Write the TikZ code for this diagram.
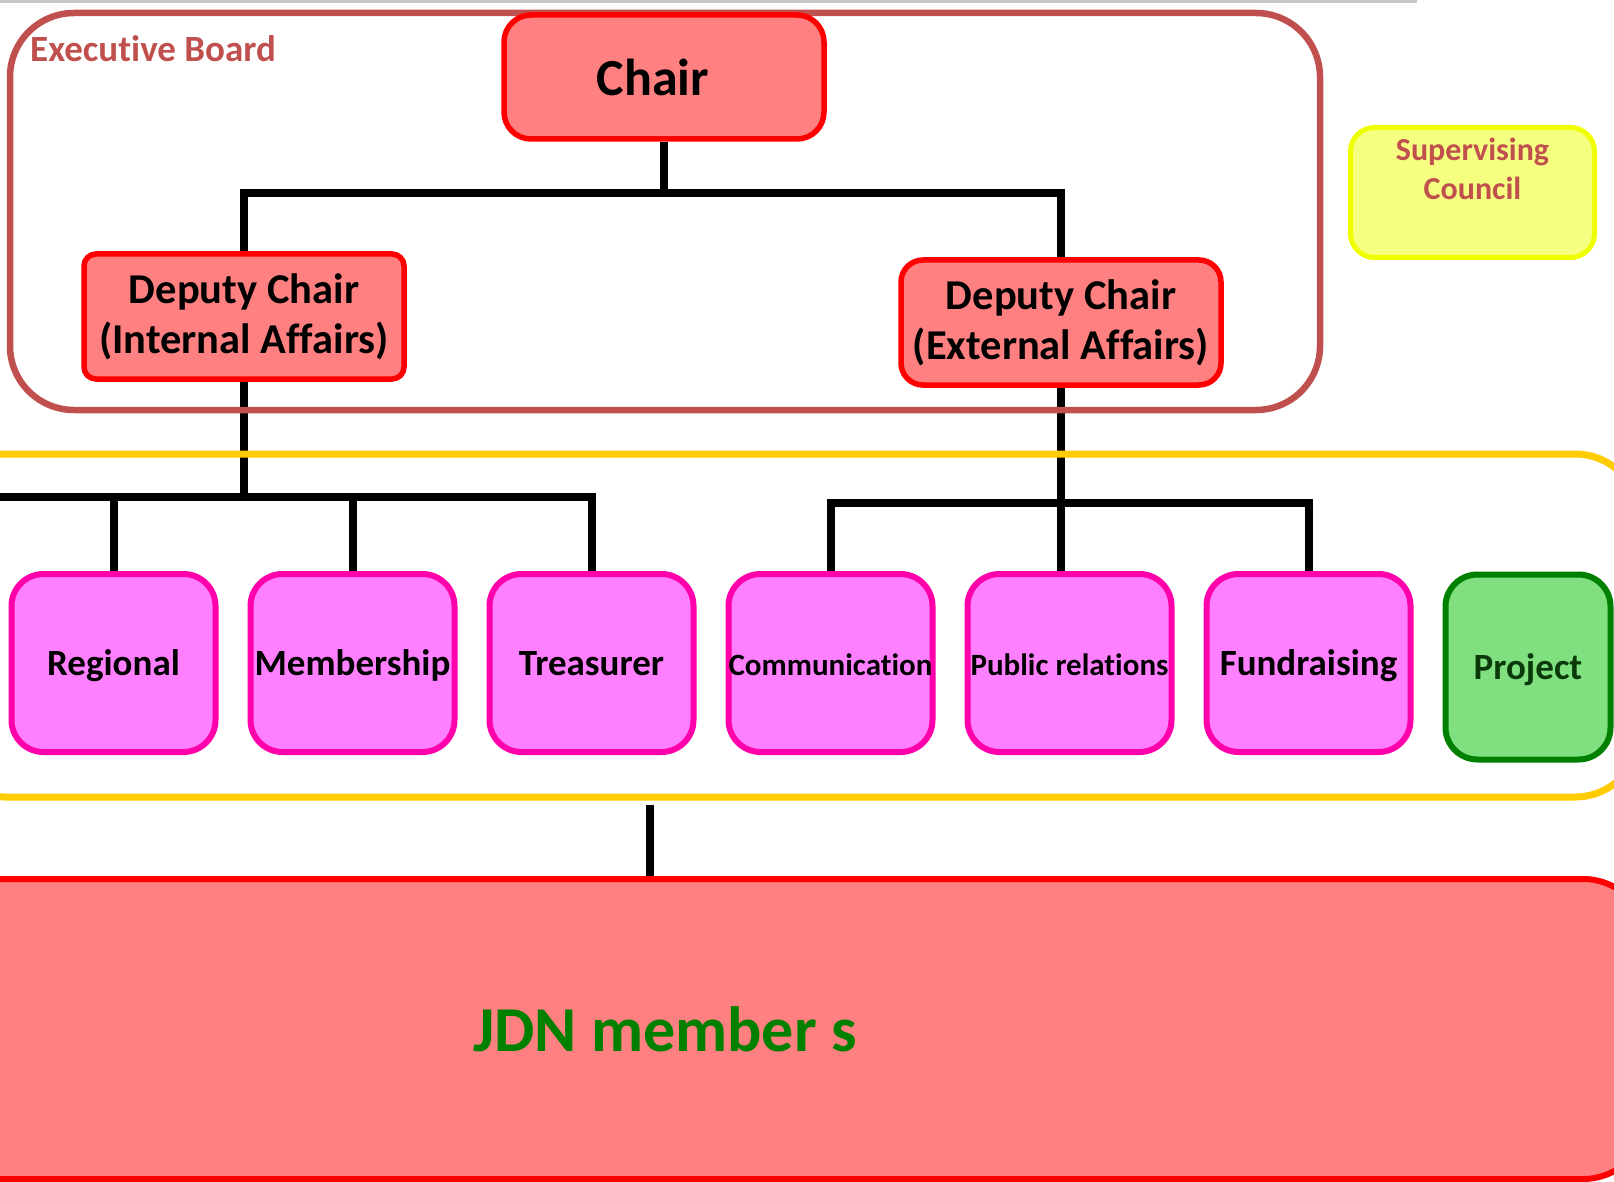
\documentclass[tikz,border=0pt]{standalone}
\usepackage{fontspec}
\setmainfont{Carlito}[Ligatures=NoCommon]
\usetikzlibrary{positioning}
\usetikzlibrary{backgrounds}
\definecolor{salmon}{HTML}{FF8080}
\definecolor{boardred}{HTML}{C0504D}
\definecolor{teampink}{HTML}{FF80FF}
\definecolor{teamborder}{HTML}{FF00AA}
\definecolor{projgreen}{HTML}{80E080}
\definecolor{projborder}{HTML}{008000}
\definecolor{projtext}{HTML}{0A3A0A}
\definecolor{teamyellow}{HTML}{FFCC00}
\definecolor{councilfill}{HTML}{F5FF80}
\definecolor{councilborder}{HTML}{F0FF00}
\definecolor{membergreen}{HTML}{008000}
\tikzstyle{chairblock} = [rectangle, draw=red, fill=salmon, line width=5.5pt, rounded corners=27pt, minimum width=320pt, minimum height=124pt, font=\fontsize{52}{62}\selectfont\bfseries, text height=41.6pt, text depth=5.2pt]
\tikzstyle{deputy} = [rectangle, draw=red, fill=salmon, line width=5.5pt, minimum width=320pt, minimum height=125pt, inner sep=2pt, align=center, font=\fontsize{42.5}{50}\selectfont\bfseries]
\tikzstyle{team} = [rectangle, draw=teamborder, fill=teampink, line width=6pt, rounded corners=32pt, minimum width=204pt, minimum height=178pt, inner sep=0pt, font=\fontsize{37}{44}\selectfont\bfseries, text height=29.6pt, text depth=3.7pt]
\tikzstyle{smallteam} = [team, font=\fontsize{31}{37}\selectfont\bfseries]
\tikzstyle{project} = [team, draw=projborder, fill=projgreen, text=projtext, minimum width=165pt, minimum height=185pt]
\tikzstyle{container} = [rectangle, draw, line width=7pt, rounded corners=65pt]
\tikzstyle{council} = [rectangle, draw=councilborder, fill=councilfill, line width=5pt, rounded corners=24pt, minimum width=244pt, minimum height=130pt]
\tikzstyle{boardlabel} = [inner sep=0pt, text=boardred, align=center]
\tikzstyle{members} = [rectangle, draw=red, fill=salmon, line width=6pt, rounded corners=65pt, minimum width=1966pt, minimum height=300pt, text=membergreen, font=\fontsize{64}{77}\selectfont\bfseries, text height=51.2pt, text depth=6.4pt]
\tikzstyle{wire} = [line width=8pt]
\begin{document}
\begin{tikzpicture}[x=1pt,y=1pt,node distance=29pt]
    \useasboundingbox (0,0) rectangle (1614,-1182);
    \draw[black!22, line width=3pt] (0,-1.5) -- (1417,-1.5);

    \node [container, draw=boardred, line width=6.5pt, rounded corners=64pt, minimum width=1310pt, minimum height=397pt] (board) at (665,-211.5) {};
    \node [boardlabel, anchor=base west, font=\fontsize{37}{44}\selectfont\bfseries] (boardname) at (30,-62) {Executive Board};
    \node [container, draw=teamyellow, minimum width=1700pt, minimum height=343pt] (teams) at (790,-625.5) {};
    \node [members] (members) at (665,-1029) {JDN member s};

    \node [council] (council) at (1472.5,-192.5) {};
    \node [boardlabel, below=13pt of council.north, font=\fontsize{32}{39}\selectfont\bfseries] (councilname) {Supervising\\Council};

    \node [chairblock] (chair) at (664,-77) {Chair\hspace*{22pt}};
    \node [deputy, rounded corners=12pt] (internal) at (244,-316.5) {Deputy Chair\\(Internal Affairs)};
    \node [deputy, rounded corners=22pt] (external) at (1061,-322.5) {Deputy Chair\\(External Affairs)};

    \node [team] (regional) at (113.5,-663) {Regional};
    \node [team, right= of regional] (membership) {Membership};
    \node [team, right= of membership] (treasurer) {Treasurer};
    \node [smallteam, right= of treasurer] (communication) {Communication};
    \node [smallteam, right= of communication] (relations) {Public relations};
    \node [team, right= of relations] (fundraising) {Fundraising};
    \node [project, right= of fundraising, yshift=-4pt] (project) {Project};

    \coordinate (westend) at (-10,-497);
    \coordinate (memberlink) at (650,-805);
    \begin{scope}[on background layer]
        \draw[wire] (chair.south) -- ++(0,-51);
        \draw[wire] (internal.north) -- ++(0,58) -| (external.north);
        \draw[wire] (internal.south) -- (internal.south |- westend);
        \draw[wire] (westend) -| (treasurer.north);
        \draw[wire] (regional.north) -- (regional.north |- westend);
        \draw[wire] (membership.north) -- (membership.north |- westend);
        \draw[wire] (external.south) -- (external.south |- relations.north);
        \draw[wire] (communication.north) -- ++(0,68) -| (fundraising.north);
        \draw[wire] (memberlink) -- (memberlink |- members.north);
    \end{scope}
\end{tikzpicture}
\end{document}
